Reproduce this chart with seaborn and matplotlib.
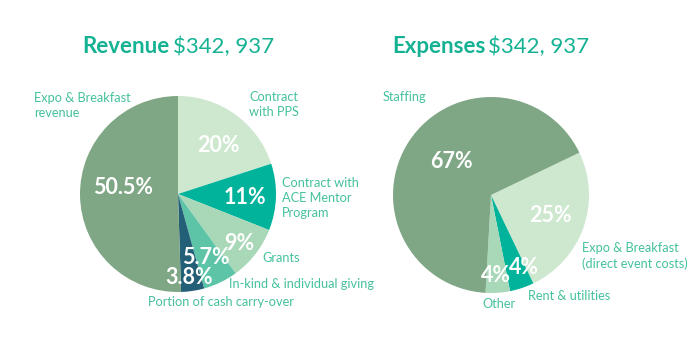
import matplotlib
matplotlib.use("Agg")
import matplotlib.pyplot as plt
import seaborn as sns

# ---- data ----
rev_categories = ["Contract\nwith PPS", "Contract with\nACE Mentor\nProgram", "Grants",
                  "In-kind & individual giving", "Portion of cash carry-over",
                  "Expo & Breakfast\nrevenue"]
rev_values = [20, 11, 9, 5.7, 3.8, 50.5]
rev_pct = ["20%", "11%", "9%", "5.7%", "3.8%", "50.5%"]

exp_categories = ["Expo & Breakfast\n(direct event costs)", "Rent & utilities", "Other", "Staffing"]
exp_values = [25, 4, 4, 67]
exp_pct = ["25%", "4%", "4%", "67%"]

rev_title = ("Revenue", "$342, 937")
exp_title = ("Expenses", "$342, 937")

# ---- style ----
sns.set_theme(style="white")
plt.rcParams["font.family"] = ["Lato", "DejaVu Sans"]

rev_colors = ["#cde8cf", "#00b39a", "#a8d8b8", "#5ec4a8", "#245f78", "#7fa785"]
exp_colors = ["#cde8cf", "#00b39a", "#a8d8b8", "#7fa785"]
title_color = "#14b293"
label_color = "#45c19e"

W, H = 700, 350
fig = plt.figure(figsize=(7, 3.5), dpi=100)
fig.patch.set_facecolor("white")


def px(x, y):
    return x / W, 1 - y / H


def make_ax(cx, cy, r):
    return fig.add_axes([(cx - r) / W, (H - cy - r) / H, 2 * r / W, 2 * r / H])


ax1 = make_ax(178, 194, 98)
ax1.pie(rev_values, colors=rev_colors, startangle=90, counterclock=False,
        wedgeprops=dict(linewidth=0))
ax1.set_xlim(-1, 1); ax1.set_ylim(-1, 1); ax1.set_aspect("equal"); ax1.axis("off")

ax2 = make_ax(491, 195, 98)
ax2.pie(exp_values, colors=exp_colors, startangle=25.6, counterclock=False,
        wedgeprops=dict(linewidth=0))
ax2.set_xlim(-1, 1); ax2.set_ylim(-1, 1); ax2.set_aspect("equal"); ax2.axis("off")

# ---- percent labels ----
rev_pct_pos = [(218, 145), (245, 197), (239, 243), (206, 258), (189, 277), (123, 188)]
exp_pct_pos = [(550, 215), (524, 268), (496, 275), (451, 161)]
for txt, (x, y) in list(zip(rev_pct, rev_pct_pos)) + list(zip(exp_pct, exp_pct_pos)):
    fig.text(*px(x, y), txt, color="white", fontsize=15.5, fontweight="bold",
             ha="center", va="center")

# ---- category labels (top-left anchor) ----
rev_lab_pos = [(249, 91), (282, 177), (262, 252), (229, 278), (148, 296), (34, 92)]
exp_lab_pos = [(582, 242), (528, 290), (482, 298), (383, 91)]
for txt, (x, y) in list(zip(rev_categories, rev_lab_pos)) + list(zip(exp_categories, exp_lab_pos)):
    fig.text(*px(x, y), txt, color=label_color, fontsize=9.2, ha="left", va="top",
             linespacing=1.28)

# ---- titles ----
fig.text(*px(82, 53), rev_title[0], color=title_color, fontsize=16, fontweight="bold",
         ha="left", va="baseline")
fig.text(*px(173, 53), rev_title[1], color=title_color, fontsize=16,
         ha="left", va="baseline")
fig.text(*px(392, 53), exp_title[0], color=title_color, fontsize=16, fontweight="bold",
         ha="left", va="baseline")
fig.text(*px(488, 53), exp_title[1], color=title_color, fontsize=16,
         ha="left", va="baseline")

fig.savefig("out.png", dpi=100, facecolor="white")
